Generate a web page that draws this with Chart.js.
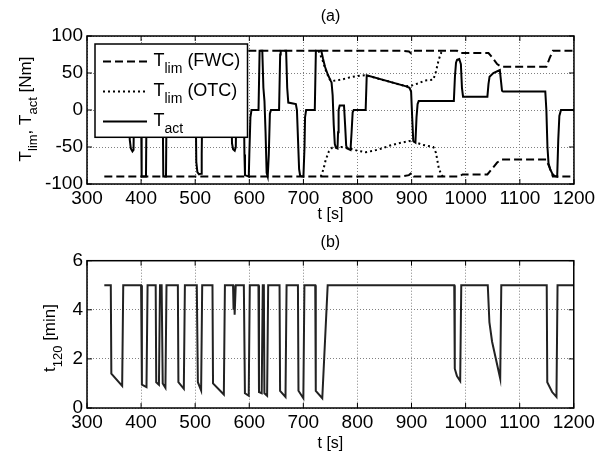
<!DOCTYPE html>
<html>
<head>
<meta charset="utf-8">
<script src="https://cdn.jsdelivr.net/npm/chart.js@4.4.1/dist/chart.umd.min.js"></script>
<style>
  html, body { margin: 0; padding: 0; background: #fff; }
  #wrap { position: relative; width: 598px; height: 458px; }
  canvas { position: absolute; left: 0; }
</style>
</head>
<body>
<div id="wrap">
  <canvas id="torque" width="598" height="230" style="top:0"></canvas>
  <canvas id="timeLeft" width="598" height="228" style="top:230px"></canvas>
</div>
<script>
const FONT = "'Liberation Sans', Arial, sans-serif";

// (a) torque limits and actual torque [Nm] vs t [s]
const fwcUpTime = [332, 880, 895, 900, 904, 984, 990, 1042, 1050, 1058, 1066, 1149, 1155, 1161, 1200];
const fwcUpper  = [80, 80, 79, 76, 80, 80, 77, 77, 70, 62, 58.5, 58.5, 70, 80, 80];
const fwcLowTime = [332, 880, 895, 900, 904, 988, 994, 1040, 1048, 1058, 1066, 1149, 1155, 1161, 1200];
const fwcLower   = [-90, -90, -88, -85, -90, -90, -87, -87, -80, -71, -67, -67, -78, -90, -90];

const otcUpTime = [728, 735, 742, 748, 752, 770, 785, 800, 815, 850, 890, 900, 912, 925, 940, 945, 950, 955, 960];
const otcUpper  = [80, 68, 52, 42, 39, 41, 44, 46, 47, 40, 32, 33, 36, 40, 41, 52, 68, 78, 80];
const otcLowTime = [732, 737, 741, 747, 753, 770, 785, 800, 815, 830, 845, 860, 876, 895, 905, 920, 940, 945, 950, 955, 958];
const otcLower   = [-90, -80, -68, -56, -51, -50, -52, -55, -57, -55, -52, -48, -45, -42, -43, -47, -50, -58, -78, -88, -90];

const actTime = [332, 344, 345, 364, 366, 378, 379, 381, 384, 386, 387,
  400, 401, 409, 410, 427, 428, 434, 436, 440, 441, 446, 447,
  469, 470, 479, 481, 501, 502, 504, 507, 511, 512, 513,
  532, 533, 553, 555, 567, 568, 570, 573, 575, 576,
  590, 591, 592, 599, 600, 602, 604, 617, 619, 624, 626, 628, 630, 632, 634, 636, 638, 640,
  655, 657, 658, 668, 670, 672, 686, 688, 690, 692, 694, 700, 702, 703, 705,
  721, 723, 733, 736, 740, 745, 750, 752, 754, 756, 758, 760, 763, 764, 765, 767, 775, 777, 779, 781, 787, 789, 791, 793,
  815, 817, 890, 896, 899, 901, 903, 907, 909, 911, 913,
  978, 980, 982, 984, 988, 991, 993, 995, 1040, 1042, 1044, 1051, 1063, 1065, 1067, 1069,
  1147, 1149, 1151, 1153, 1156, 1160, 1164, 1169, 1171, 1173, 1176, 1200];
const actTorque = [0, 0, 80, 80, 0, 0, -40, -52, -56, -54, 0,
  0, -90, -90, 0, 0, 80, 80, 0, 0, -90, -90, 0,
  0, 80, 80, 0, 0, -70, -84, -87, -86, -60, 0,
  0, 80, 80, 0, 0, -45, -53, -55, -50, 0,
  0, -60, -88, -90, -60, -10, 0, 0, 80, 80, 30, 12, -30, -85, -90, -60, -5, 0,
  0, 75, 80, 80, 30, 10, 8, 0, -40, -80, -89, -90, -50, -10, 0,
  0, 80, 80, 70, 58, 48, 40, 37, 20, -20, -46, -51, -52, -30, 0, 6, 6, -20, -48, -52, -54, -30, -3, 0,
  0, 47, 32, 30, 25, -10, -42, -44, -10, 8, 12,
  12, 45, 64, 68, 69, 62, 30, 18, 18, 35, 45, 50, 54, 40, 26, 25,
  25, 0, -50, -72, -80, -86, -89, -90, -40, -8, 0, 0];

// (b) t120 [min] vs t [s]
const t120Time = [332, 344, 345, 365, 367, 400, 401.5, 410, 412, 427, 428, 433, 435, 438, 440, 445, 447,
  468, 469, 479, 481, 503, 505, 511, 513, 532, 533, 553, 555, 570, 571, 572, 573, 575,
  590, 592, 599, 601, 617, 618, 623, 625, 627, 628, 633, 635, 656, 657, 667, 669,
  690, 691, 700, 702, 722, 723, 735, 745, 979, 980, 984, 990, 992,
  1041, 1044, 1049, 1064, 1066, 1150, 1151, 1160, 1168, 1170, 1200];
const t120Value = [5, 5, 1.4, 0.9, 5, 5, 0.95, 0.85, 5, 5, 1.05, 0.95, 5, 5, 1.0, 0.82, 5,
  5, 1.05, 0.78, 5, 5, 1.05, 0.72, 5, 5, 1.0, 0.55, 5, 5, 4.0, 4.8, 3.8, 5,
  5, 0.6, 0.5, 5, 5, 0.65, 0.6, 5, 5, 0.6, 0.5, 5, 5, 0.7, 0.45, 5,
  5, 0.7, 0.4, 5, 5, 0.7, 0.4, 5, 5, 1.6, 1.3, 1.1, 5,
  5, 3.5, 2.7, 1.2, 5, 5, 1.05, 0.65, 0.45, 5, 5];

// axis ranges: [min, max, step]
const xTicks = [300, 1200, 100];
const yTicksA = [-100, 100, 50];
const yTicksB = [0, 6, 2];

const pts = (xs, ys) => xs.map((x, i) => ({ x: x, y: ys[i] }));

function richWidth(ctx, parts, size, subSize) {
  let w = 0;
  parts.forEach(p => {
    ctx.font = `${p.sub ? subSize : size}px ${FONT}`;
    w += ctx.measureText(p.t).width;
  });
  return w;
}
function richText(ctx, parts, x, y, size, subSize, subDrop) {
  parts.forEach(p => {
    ctx.font = `${p.sub ? subSize : size}px ${FONT}`;
    ctx.fillText(p.t, x, p.sub ? y + subDrop : y);
    x += ctx.measureText(p.t).width;
  });
}

const frame = {
  id: 'frame',
  afterDatasetsDraw(chart, args, opts) {
    const { ctx, chartArea: a, scales: { x, y } } = chart;
    ctx.save();
    ctx.fillStyle = '#000';
    ctx.textBaseline = 'alphabetic';
    ctx.textAlign = 'left';

    // legend sits on top of the plot, like the original
    if (opts.legend) {
      const L = opts.legend;
      ctx.fillStyle = '#fff';
      ctx.fillRect(L.left, L.top, L.right - L.left, L.bottom - L.top);
      ctx.strokeStyle = '#000';
      ctx.lineWidth = 1.5;
      ctx.strokeRect(L.left, L.top, L.right - L.left, L.bottom - L.top);
      L.rows.forEach((r, i) => {
        const base = L.firstBase + i * L.step;
        ctx.setLineDash(r.dash);
        ctx.lineWidth = 2;
        ctx.beginPath();
        ctx.moveTo(L.lineFrom, base - 4);
        ctx.lineTo(L.lineTo, base - 4);
        ctx.stroke();
        ctx.setLineDash([]);
        ctx.fillStyle = '#000';
        richText(ctx, r.parts, L.textX, base, 18, 14, 7.5);
      });
    }

    // inward ticks + full box
    ctx.setLineDash([]);
    ctx.strokeStyle = '#000';
    ctx.lineWidth = 1;
    ctx.beginPath();
    x.ticks.forEach(t => {
      const p = x.getPixelForValue(t.value);
      ctx.moveTo(p, a.bottom); ctx.lineTo(p, a.bottom - 5);
      ctx.moveTo(p, a.top); ctx.lineTo(p, a.top + 5);
    });
    y.ticks.forEach(t => {
      const p = y.getPixelForValue(t.value);
      ctx.moveTo(a.left, p); ctx.lineTo(a.left + 5, p);
      ctx.moveTo(a.right, p); ctx.lineTo(a.right - 5, p);
    });
    ctx.stroke();
    ctx.lineWidth = 1.5;
    ctx.strokeRect(a.left, a.top, a.width, a.height);

    // y label with subscripts
    const yt = opts.yTitle;
    ctx.fillStyle = '#000';
    ctx.translate(yt.x, yt.cy);
    ctx.rotate(-Math.PI / 2);
    const w = richWidth(ctx, yt.parts, 17, 13);
    richText(ctx, yt.parts, -w / 2, 0, 17, 13, yt.drop);
    ctx.restore();
  }
};

function axisOpts(range, fit, tickPad, titleText, titlePad) {
  const o = {
    type: 'linear',
    min: range[0],
    max: range[1],
    afterFit: fit,
    grid: { color: '#808080', lineWidth: 1, drawTicks: false, tickLength: 0 },
    border: { display: false, dash: [1, 2] },
    ticks: {
      stepSize: range[2],
      autoSkip: false,
      maxRotation: 0,
      padding: tickPad,
      color: '#000',
      font: { size: 19, family: FONT },
      callback: v => String(v)
    }
  };
  if (titleText) {
    o.title = { display: true, text: titleText, color: '#000',
      font: { size: 16, family: FONT }, padding: { top: 0, bottom: titlePad } };
  }
  return o;
}

function baseOptions(cfg) {
  return {
    responsive: false,
    animation: false,
    devicePixelRatio: 1,
    layout: { padding: { left: 0, right: 22, top: 0, bottom: 0 } },
    plugins: {
      legend: { display: false },
      tooltip: { enabled: false },
      title: {
        display: true, text: cfg.title, fullSize: false, color: '#000',
        font: { size: 16, family: FONT, weight: 'normal' },
        padding: cfg.titlePad
      },
      frame: cfg.frame
    },
    scales: {
      x: axisOpts(xTicks, s => { s.height = cfg.xHeight; }, cfg.xTickPad, 't [s]', cfg.xTitlePad),
      y: axisOpts(cfg.yRange, s => { s.width = 87; }, 4)
    }
  };
}

const lineStyle = { borderColor: '#000', borderWidth: 2, pointRadius: 0, tension: 0, fill: false };

new Chart(document.getElementById('torque'), {
  type: 'line',
  data: {
    datasets: [
      Object.assign({ label: 'T_lim (FWC) upper', data: pts(fwcUpTime, fwcUpper), borderDash: [8, 4] }, lineStyle),
      Object.assign({ label: 'T_lim (FWC) lower', data: pts(fwcLowTime, fwcLower), borderDash: [8, 4] }, lineStyle),
      Object.assign({ label: 'T_lim (OTC) upper', data: pts(otcUpTime, otcUpper), borderDash: [2, 3] }, lineStyle),
      Object.assign({ label: 'T_lim (OTC) lower', data: pts(otcLowTime, otcLower), borderDash: [2, 3] }, lineStyle),
      Object.assign({ label: 'T_act', data: pts(actTime, actTorque) }, lineStyle)
    ]
  },
  options: baseOptions({
    title: '(a)',
    titlePad: { top: 7.4, bottom: 9.4 },
    xHeight: 46, xTickPad: 2.9, xTitlePad: 5.9,
    yRange: yTicksA,
    frame: {
      yTitle: { x: 31, cy: 109, drop: 6,
        parts: [{ t: 'T' }, { t: 'lim', sub: 1 }, { t: ', T' }, { t: 'act', sub: 1 }, { t: ' [Nm]' }] },
      legend: {
        left: 95, top: 44, right: 247.5, bottom: 137.3,
        firstBase: 65.5, step: 30, lineFrom: 103, lineTo: 147, textX: 153.5,
        rows: [
          { dash: [8, 4], parts: [{ t: 'T' }, { t: 'lim', sub: 1 }, { t: ' (FWC)' }] },
          { dash: [2, 3], parts: [{ t: 'T' }, { t: 'lim', sub: 1 }, { t: ' (OTC)' }] },
          { dash: [], parts: [{ t: 'T' }, { t: 'act', sub: 1 }] }
        ]
      }
    }
  }),
  plugins: [frame]
});

new Chart(document.getElementById('timeLeft'), {
  type: 'line',
  data: {
    datasets: [
      Object.assign({ label: 't120', data: pts(t120Time, t120Value) }, lineStyle, { borderColor: '#222' })
    ]
  },
  options: baseOptions({
    title: '(b)',
    titlePad: { top: 2.9, bottom: 8.6 },
    xHeight: 50, xTickPad: 3.1, xTitlePad: 4.4,
    yRange: yTicksB,
    frame: {
      yTitle: { x: 55, cy: 108, drop: 6.5,
        parts: [{ t: 't' }, { t: '120', sub: 1 }, { t: ' [min]' }] }
    }
  }),
  plugins: [frame]
});
</script>
</body>
</html>
